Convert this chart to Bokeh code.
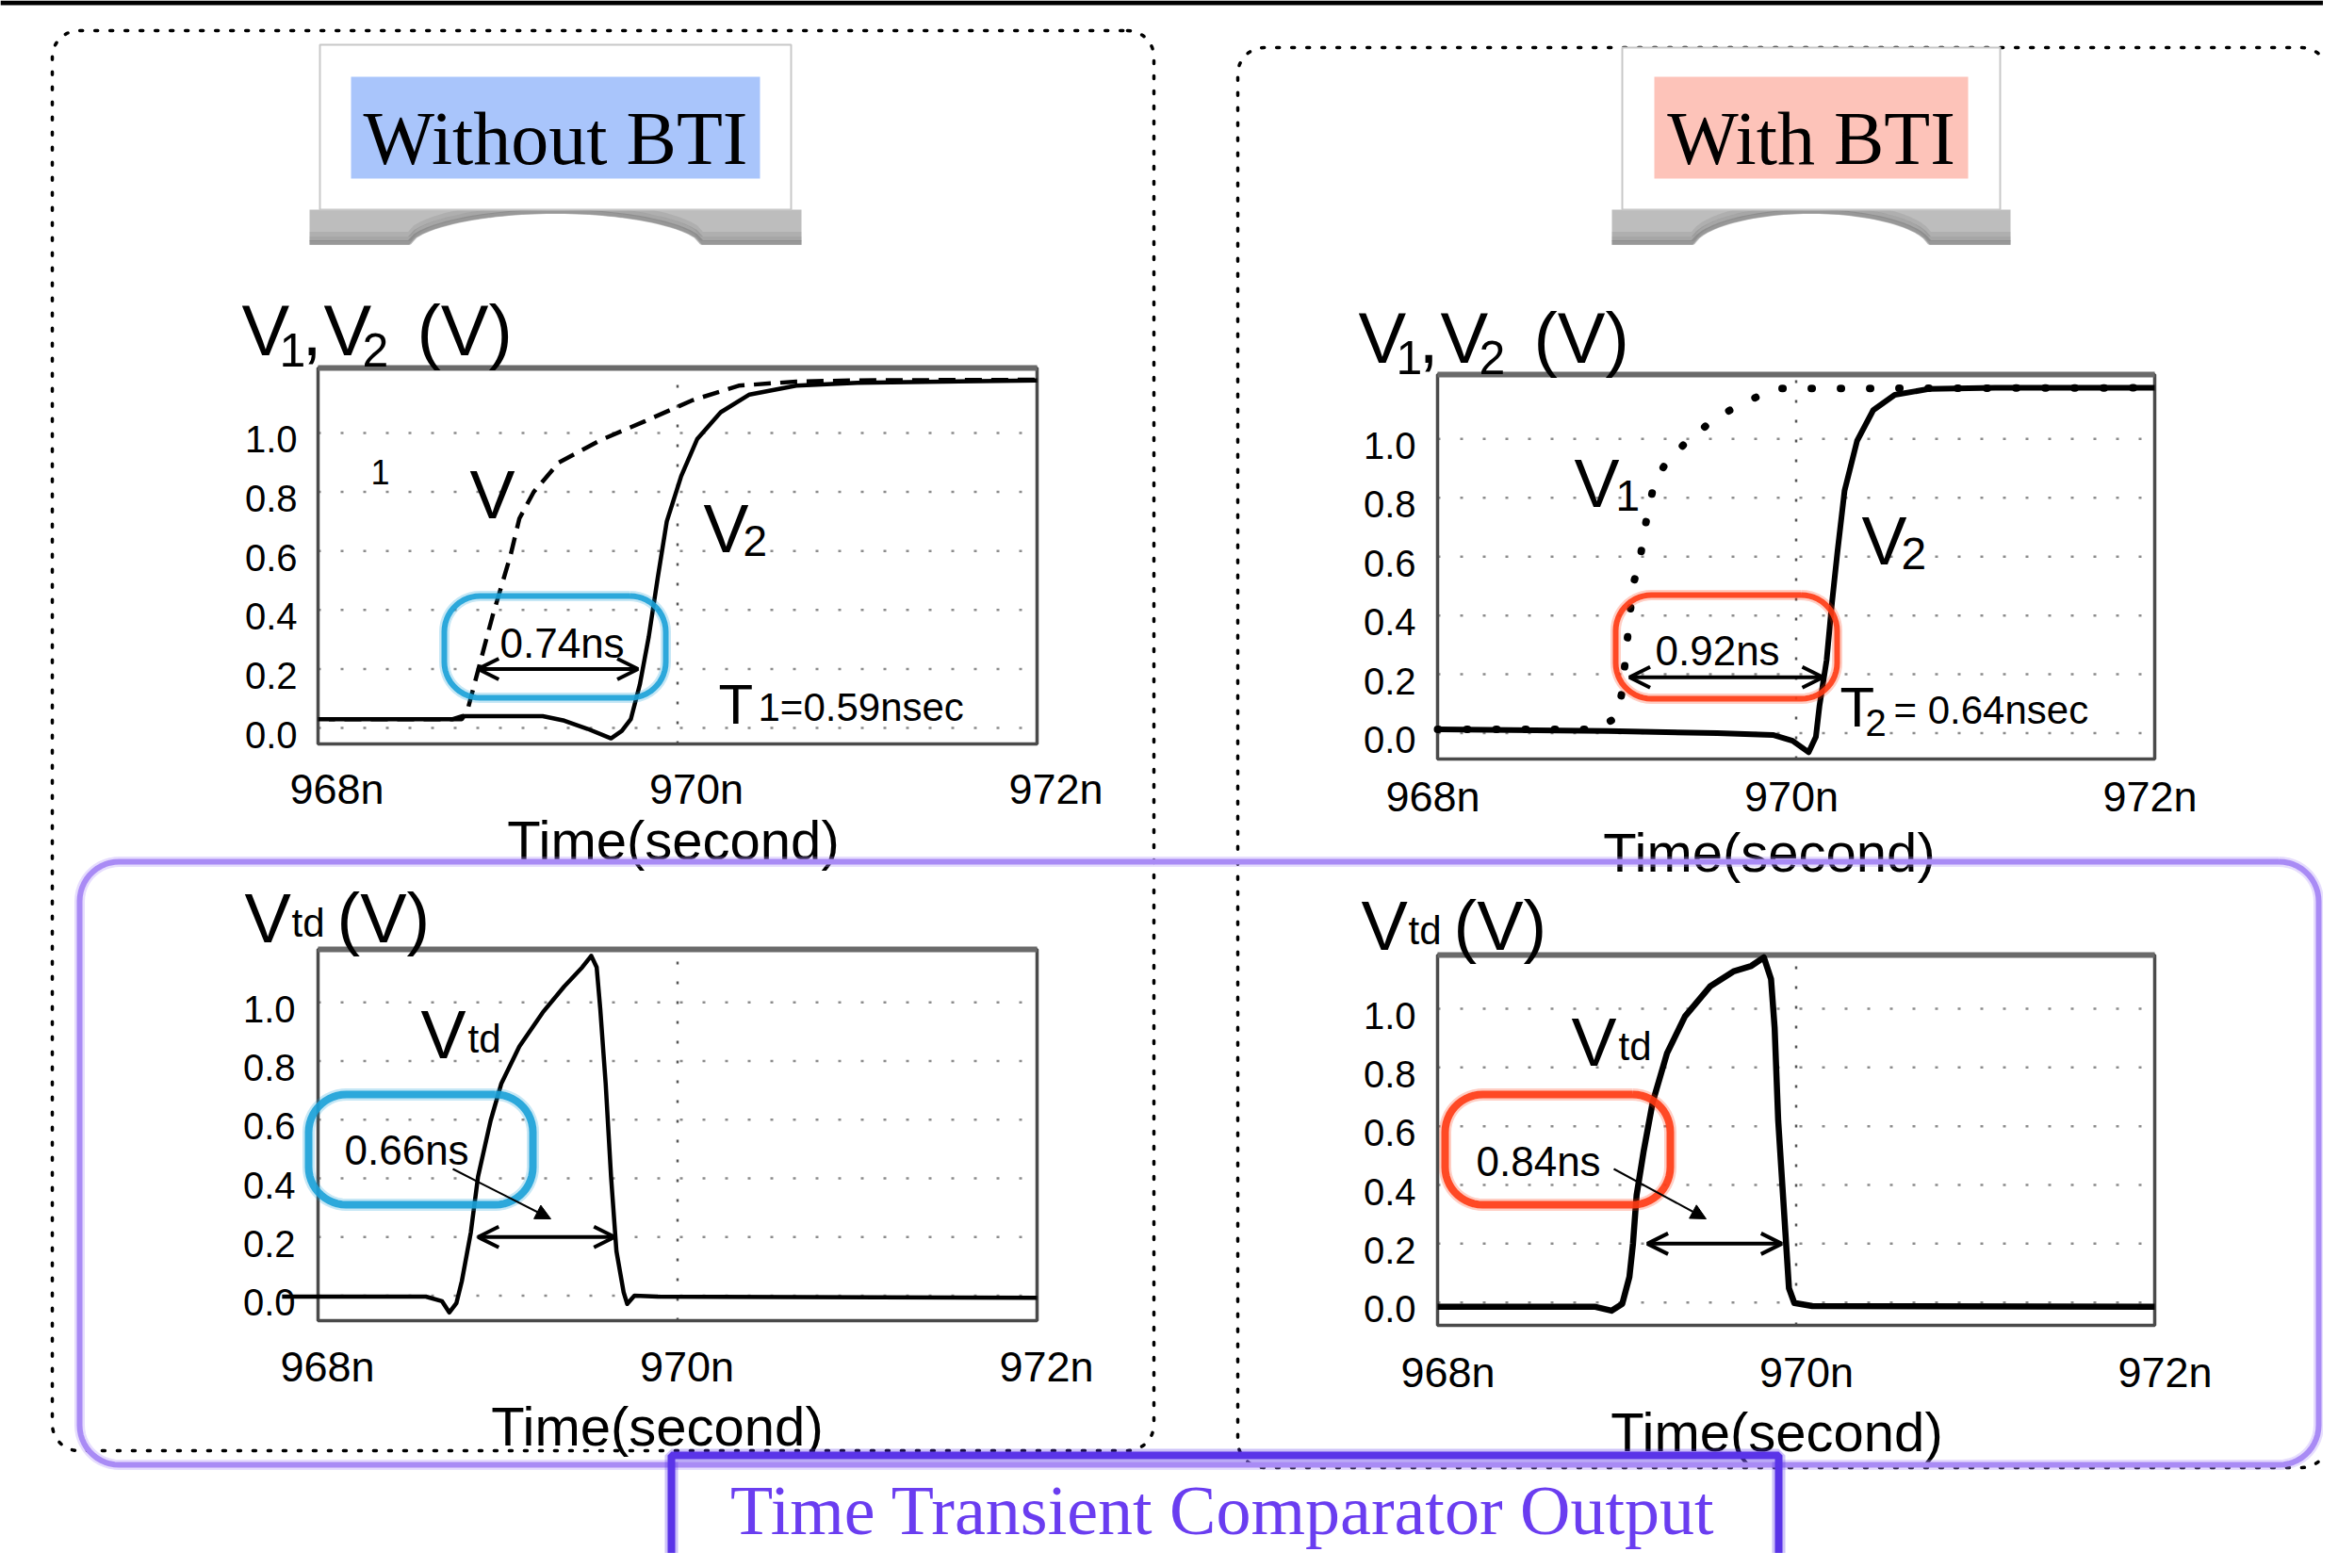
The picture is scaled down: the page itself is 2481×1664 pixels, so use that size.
import numpy as np
from bokeh.plotting import figure
from bokeh.models import Range1d, Arrow, OpenHead, NormalHead
from bokeh.core.properties import value
from bokeh.embed import file_html
from bokeh.resources import INLINE

# ---------------- data (time in ns, voltage in V) ----------------
x_ticks = [968, 970, 972]
x_tick_labels = ["968n", "970n", "972n"]
y_ticks = [0.0, 0.2, 0.4, 0.6, 0.8, 1.0]
y_tick_labels = ["0.0", "0.2", "0.4", "0.6", "0.8", "1.0"]

# Without BTI : V1 (dashed) and V2 (solid)
nb_v1_t = [968.0, 968.80, 968.83, 968.97, 969.07, 969.12, 969.20, 969.34, 969.57, 969.82, 970.08, 970.34, 970.66, 971.0, 972.0]
nb_v1_v = [0.03, 0.03, 0.057, 0.378, 0.583, 0.71, 0.80, 0.90, 0.975, 1.04, 1.11, 1.16, 1.174, 1.178, 1.18]
nb_v2_t = [968.06, 968.75, 968.80, 969.25, 969.37, 969.50, 969.63, 969.69, 969.74, 969.79, 969.84, 969.89, 969.94, 970.02, 970.11, 970.24, 970.40, 970.66, 971.0, 972.0]
nb_v2_v = [0.03, 0.03, 0.04, 0.04, 0.025, -0.003, -0.035, -0.01, 0.03, 0.147, 0.31, 0.51, 0.70, 0.853, 0.98, 1.07, 1.13, 1.16, 1.17, 1.178]

# With BTI : V1 (dotted) and V2 (solid)
wb_v1_t = [968.0, 968.89, 969.00, 969.03, 969.06, 969.09, 969.13, 969.15, 969.18, 969.21, 969.29, 969.42, 969.56, 969.73, 969.88, 970.08, 970.29, 972.0]
wb_v1_v = [0.013, 0.013, 0.055, 0.144, 0.327, 0.503, 0.591, 0.68, 0.769, 0.854, 0.935, 1.006, 1.076, 1.128, 1.172, 1.172, 1.172, 1.174]
wb_v2_t = [968.0, 968.95, 969.56, 969.87, 969.98, 970.07, 970.11, 970.13, 970.17, 970.20, 970.23, 970.27, 970.34, 970.43, 970.55, 970.74, 971.11, 972.0]
wb_v2_v = [0.013, 0.007, 0.0, -0.006, -0.026, -0.065, -0.013, 0.092, 0.248, 0.444, 0.614, 0.824, 0.994, 1.098, 1.15, 1.17, 1.174, 1.174]

# Comparator output Vtd
nb_td_t = [967.80, 968.60, 968.69, 968.73, 968.77, 968.80, 968.85, 968.89, 968.96, 969.02, 969.12, 969.25, 969.37, 969.47, 969.52, 969.55, 969.57, 969.60, 969.63, 969.66, 969.70, 969.72, 969.76, 969.89, 972.0]
nb_td_v = [-0.003, -0.003, -0.019, -0.057, -0.025, 0.05, 0.216, 0.406, 0.597, 0.724, 0.85, 0.966, 1.055, 1.12, 1.159, 1.12, 0.978, 0.724, 0.406, 0.152, 0.012, -0.028, 0.0, -0.003, -0.007]
wb_td_t = [968.0, 968.88, 968.97, 969.03, 969.07, 969.09, 969.11, 969.15, 969.20, 969.28, 969.38, 969.52, 969.65, 969.75, 969.82, 969.86, 969.88, 969.90, 969.94, 969.96, 969.99, 970.09, 972.0]
wb_td_v = [-0.015, -0.015, -0.028, -0.005, 0.087, 0.2, 0.365, 0.517, 0.682, 0.849, 0.974, 1.076, 1.127, 1.146, 1.175, 1.101, 0.936, 0.619, 0.238, 0.048, -0.002, -0.012, -0.015]

# measured delay markers (t_start, t_end, level)
nb_delay = (968.89, 969.78, 0.2)
wb_delay = (969.07, 970.15, 0.19)
nb_td_delay = (968.89, 969.65, 0.2)
wb_td_delay = (969.17, 969.92, 0.2)

# ---------------- canvas ----------------
L, R, T, B = 8, 2473, 8, 1656
W, H = R - L, B - T
SANS = "Liberation Sans"
SERIF = "Liberation Serif"
MID = 0.18  # anchor offset above the wanted baseline, in em (empirical)

p = figure(width=W, height=H, x_range=Range1d(L, R), y_range=Range1d(B, T),
           output_backend="svg", toolbar_location=None,
           x_axis_type=None, y_axis_type=None, min_border=0, title=None)
p.outline_line_color = None
p.background_fill_color = "white"
p.border_fill_color = "white"


def txt(x, base, s, size, font=SANS, color="black", align="left", **kw):
    # position given by the text baseline; drawn with a 'middle' anchor
    p.text(x=[x], y=[base - MID * size], text=[s], text_font=value(font), text_font_size=f"{size}px",
           text_color=color, text_align=align, text_baseline="middle", **kw)


def rrect(x0, y0, x1, y1, r, n=14):
    xs, ys = [], []
    for cx, cy, a0 in [(x1 - r, y0 + r, -90), (x1 - r, y1 - r, 0), (x0 + r, y1 - r, 90), (x0 + r, y0 + r, 180)]:
        a = np.radians(np.linspace(a0, a0 + 90, n))
        xs.extend(cx + r * np.cos(a))
        ys.extend(cy + r * np.sin(a))
    xs.append(xs[0]); ys.append(ys[0])
    return xs, ys


# top black bar
p.quad(left=L, right=R, top=T, bottom=13, fill_color="black", line_color=None)

# dotted group boxes
for box in [(63, 40, 1232, 1547, 28), (1321, 58, 2478, 1565, 28)]:
    xs, ys = rrect(*box)
    p.line(xs, ys, line_color="black", line_width=3.5, line_dash="3 13", line_cap="round")


# title cards with curled shadow
def card(xl, xr, yt, yb, inner, fill, label):
    sx0, sx1 = xl - 11, xr + 11
    xc, hw = (xl + xr) / 2, 0.31 * (xr - xl)
    xa = np.linspace(sx1, sx0, 80)
    u = np.clip(np.abs(xa - xc) / hw, 0, 1)
    ya = yb + 37 - 33 * (1 - u ** 2) ** 0.6
    p.patch(np.r_[sx0, sx1, xa], np.r_[yb, yb, ya], fill_color="#bdbdbd", line_color=None)
    for off, a in [(2, 0.55), (6, 0.35), (11, 0.2)]:
        p.line(xa, ya - off, line_color="#7a7a7a", line_width=5, line_alpha=a)
    p.quad(left=xl, right=xr, top=yt, bottom=yb, fill_color="white", line_color="#c8c8c8", line_width=2)
    ix0, iy0, ix1, iy1 = inner
    p.quad(left=ix0, right=ix1, top=iy0, bottom=iy1, fill_color=fill, line_color=None)
    txt((ix0 + ix1) / 2, 169, label, 80, font=SERIF, align="center")


card(347, 847, 55, 230, (380, 89, 814, 197), "#a9c5fb", "Without BTI")
card(1729, 2130, 58, 230, (1763, 89, 2096, 197), "#fdc3b9", "With BTI")

# ---------------- panels ----------------
panels = {
    "tl": dict(px=(345, 1108), py=(797, 398), ylim=(-0.054, 1.22), ytick_x=323, xtick_base=853, xtick_off=20),
    "tr": dict(px=(1533, 2294), py=(813, 405), ylim=(-0.088, 1.219), ytick_x=1510, xtick_base=861, xtick_off=-5),
    "bl": dict(px=(345, 1108), py=(1409, 1015), ylim=(-0.085, 1.181), ytick_x=321, xtick_base=1466, xtick_off=10),
    "br": dict(px=(1533, 2294), py=(1414, 1021), ylim=(-0.078, 1.183), ytick_x=1510, xtick_base=1472, xtick_off=11),
}
YLBL_SHIFT = 7  # px: brings the digit centres onto their grid lines

for name, d in panels.items():
    x0, x1 = x_ticks[0], x_ticks[-1]
    px0, px1 = d["px"]
    kx = (x1 - x0) / (px1 - px0)
    p.extra_x_ranges[name] = Range1d(x0 - (px0 - L) * kx, x1 + (R - px1) * kx)
    y0, y1 = d["ylim"]
    pyb, pyt = d["py"]
    ky = (y1 - y0) / (pyb - pyt)
    ys_, ye_ = y0 - (B - pyb) * ky, y1 + (pyt - T) * ky
    p.extra_y_ranges[name] = Range1d(ys_, ye_)
    p.extra_y_ranges[name + "_lbl"] = Range1d(ys_ + YLBL_SHIFT * ky, ye_ + YLBL_SHIFT * ky)
    rn = dict(x_range_name=name, y_range_name=name)
    # grid
    p.segment(x0=[x0] * len(y_ticks), x1=[x1] * len(y_ticks), y0=y_ticks, y1=y_ticks,
              line_color="#8c8c8c", line_width=2.5, line_dash="3 21", **rn)
    p.segment(x0=[x_ticks[1]], x1=[x_ticks[1]], y0=[y0], y1=[y1],
              line_color="#555555", line_width=2.5, line_dash="3 18", **rn)
    # frame
    p.quad(left=x0, right=x1, bottom=y0, top=y1, fill_color=None, line_color="#4a4a4a", line_width=3.5, **rn)
    p.segment(x0=[x0], x1=[x1], y0=[y1], y1=[y1], line_color="#6a6a6a", line_width=6, **rn)
    # tick labels
    p.text(x=x_ticks, y=[d["xtick_base"] - MID * 45] * 3, text=x_tick_labels, x_range_name=name,
           x_offset=d["xtick_off"], text_align="center", text_baseline="middle",
           text_font=value(SANS), text_font_size="45px", text_color="black")
    p.text(x=[d["ytick_x"]] * len(y_ticks), y=y_ticks, text=y_tick_labels, y_range_name=name + "_lbl",
           text_align="right", text_baseline="middle",
           text_font=value(SANS), text_font_size="40px", text_color="black")

# curves
p.line(nb_v1_t, nb_v1_v, line_color="black", line_width=4.5, line_dash="18 10", x_range_name="tl", y_range_name="tl")
p.line(nb_v2_t, nb_v2_v, line_color="black", line_width=4.5, line_join="round", x_range_name="tl", y_range_name="tl")
p.line(wb_v1_t, wb_v1_v, line_color="black", line_width=8, line_dash="1 30", line_cap="round", x_range_name="tr", y_range_name="tr")
p.line(wb_v2_t, wb_v2_v, line_color="black", line_width=6, line_join="round", x_range_name="tr", y_range_name="tr")
p.line(nb_td_t, nb_td_v, line_color="black", line_width=4.5, line_join="round", x_range_name="bl", y_range_name="bl")
p.line(wb_td_t, wb_td_v, line_color="black", line_width=6.5, line_join="round", x_range_name="br", y_range_name="br")

# delay arrows
for name, (ta, tb, lv) in [("tl", nb_delay), ("tr", wb_delay), ("bl", nb_td_delay), ("br", wb_td_delay)]:
    p.add_layout(Arrow(start=OpenHead(size=22, line_width=4), end=OpenHead(size=22, line_width=4),
                       x_start=ta, y_start=lv, x_end=tb, y_end=lv, line_width=4,
                       x_range_name=name, y_range_name=name))

# axis titles
v12 = [(0, 0, "V", 76), (40, 16, "1", 50), (64, 0, ",", 76), (87, 0, "V", 76), (128, 16, "2", 50), (186, 0, "(V)", 76)]
vtd = [(0, 0, "V", 74), (50, 0, "td", 42), (98, 0, "(V)", 74)]
for (ox, oy), pieces in [((264, 372), v12), ((1449, 380), v12), ((267, 995), vtd), ((1452, 1003), vtd)]:
    for dx, dy, s, sz in pieces:
        txt(ox + dx, oy + dy, s, sz)

for cx, by in [(722, 909), (1885, 922), (705, 1531), (1893, 1537)]:
    txt(cx, by, "Time(second)", 58, align="center")

# curve labels
txt(401, 515, "1", 36)
txt(506, 545, "V", 72)
txt(754, 581, "V", 72); txt(796, 590, "2", 46)
txt(1678, 533, "V", 72); txt(1722, 542, "1", 46)
txt(1983, 594, "V", 72); txt(2025, 604, "2", 48)
txt(454, 1118, "V", 72); txt(504, 1118, "td", 42)
txt(1675, 1126, "V", 72); txt(1725, 1126, "td", 42)

# delay text
txt(538, 698, "0.74ns", 44)
txt(1764, 706, "0.92ns", 44)
txt(373, 1236, "0.66ns", 44)
txt(1574, 1248, "0.84ns", 44)
txt(770, 766, "T", 60); txt(812, 766, "1=0.59nsec", 42)
txt(1960, 769, "T", 60); txt(1987, 782, "2", 40); txt(2017, 769, "= 0.64nsec", 42)

# pointer arrows
for xs, ys, xe, ye in [(488, 1248, 592, 1301), (1720, 1248, 1818, 1301)]:
    p.add_layout(Arrow(end=NormalHead(size=16, fill_color="black", line_color="black"),
                       x_start=xs, y_start=ys, x_end=xe, y_end=ye, line_width=2, line_color="black"))

# highlight loops
for box, col, lw in [((479, 640, 714, 748, 38), "#1ba1d8", 6), ((1722, 639, 1957, 749, 38), "#ff3b14", 6),
                     ((335, 1169, 573, 1286, 40), "#1ba1d8", 8), ((1541, 1169, 1780, 1286, 40), "#ff3b14", 8)]:
    xs, ys = rrect(*box)
    p.line(xs, ys, line_color=col, line_width=lw + 5, line_alpha=0.25)
    p.line(xs, ys, line_color=col, line_width=lw, line_alpha=0.9)

# purple group box for comparator outputs
xs, ys = rrect(92, 922, 2468, 1562, 42)
p.line(xs, ys, line_color="#ab8ef7", line_width=11, line_alpha=0.3)
p.line(xs, ys, line_color="#a98bf5", line_width=6)

# bottom caption
p.quad(left=720, right=1895, top=1552, bottom=1720, fill_color=None, line_color="#5b34e8", line_width=8)
p.quad(left=720, right=1895, top=1552, bottom=1720, fill_color=None, line_color="#5b34e8", line_width=14, line_alpha=0.3)
txt(1305, 1624, "Time Transient Comparator Output", 74, font=SERIF, color="#6a3df0", align="center")

open("out.html", "w").write(file_html(p, INLINE))
